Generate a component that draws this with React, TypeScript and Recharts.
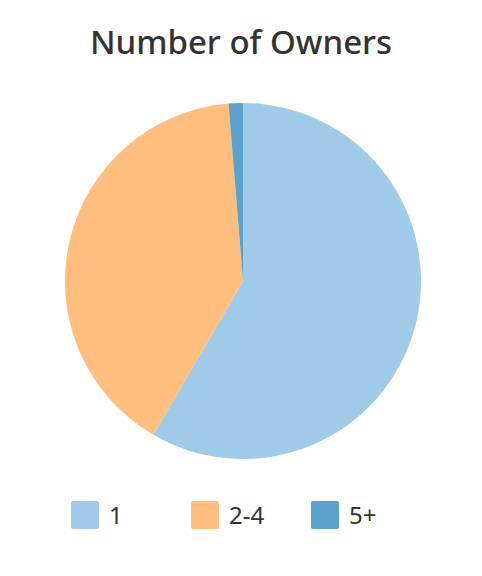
import React from "react";
import { PieChart, Pie, Cell, Legend } from "recharts";

const categories = ["1", "2-4", "5+"];
const shares = [58.4, 40.3, 1.3];
const colors = ["#a0cbe8", "#ffbe7d", "#5ba3cd"];

const data = categories.map((name, i) => ({ name, value: shares[i] }));

const renderLegend = () => (
  <div style={{ position: "relative", width: 482, height: 32 }}>
    {categories.map((c, i) => (
      <div
        key={c}
        style={{
          position: "absolute",
          left: 71 + i * 120,
          top: 0,
          display: "flex",
          alignItems: "center",
        }}
      >
        <div
          style={{
            width: 28,
            height: 28,
            borderRadius: 2,
            background: colors[i],
          }}
        />
        <span
          style={{
            marginLeft: 10,
            fontSize: 24,
            color: "#333",
            fontFamily: "Noto Sans, sans-serif",
            lineHeight: "28px",
          }}
        >
          {c}
        </span>
      </div>
    ))}
  </div>
);

export default function App() {
  return (
    <div style={{ position: "absolute", left: 0, top: 0, width: 482, height: 576, background: "#fff" }}>
      <div
        style={{
          position: "absolute",
          left: 0,
          top: 20,
          width: 482,
          textAlign: "center",
          fontSize: 33,
          fontFamily: "Noto Sans, sans-serif",
          color: "#333",
          fontWeight: 500,
          lineHeight: "44px",
        }}
      >
        Number of Owners
      </div>
      <PieChart width={482} height={576} margin={{ top: 0, right: 0, bottom: 0, left: 0 }}>
        <Pie
          data={data}
          dataKey="value"
          nameKey="name"
          cx={243}
          cy={281}
          outerRadius={178}
          startAngle={90}
          endAngle={-270}
          stroke="none"
          isAnimationActive={false}
        >
          {data.map((d, i) => (
            <Cell key={d.name} fill={colors[i]} />
          ))}
        </Pie>
        <Legend
          content={renderLegend}
          wrapperStyle={{ position: "absolute", top: 501, left: 0, width: 482 }}
        />
      </PieChart>
    </div>
  );
}
